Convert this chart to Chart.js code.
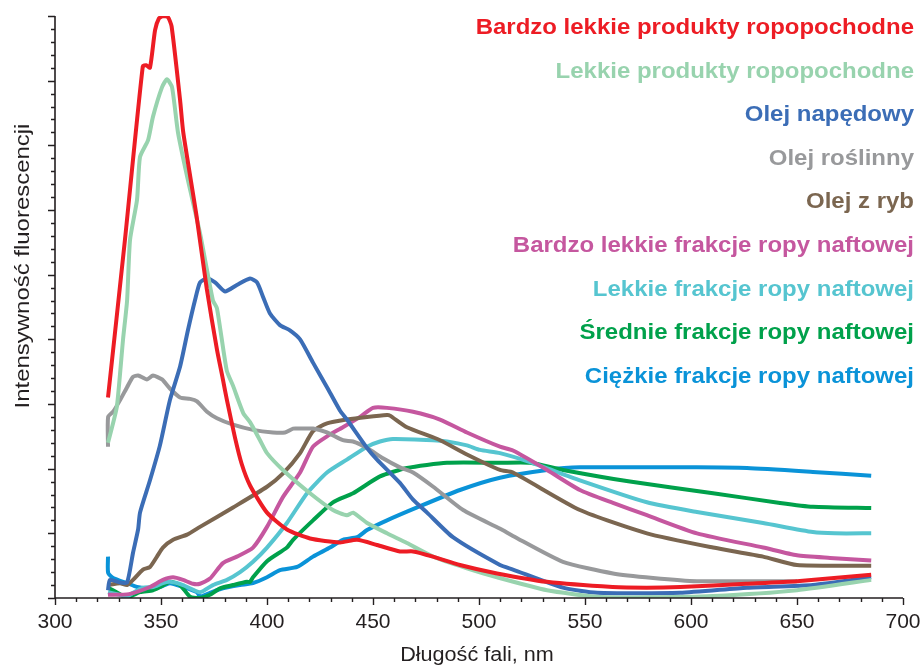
<!DOCTYPE html>
<html lang="pl">
<head>
<meta charset="utf-8">
<title>Widma fluorescencji</title>
<script src="https://cdn.jsdelivr.net/npm/chart.js@4.4.1/dist/chart.umd.min.js"></script>
<style>
  html, body { margin: 0; padding: 0; background: #ffffff; }
  #wrap { width: 922px; height: 665px; }
</style>
</head>
<body>
<div id="wrap"><canvas id="chart" width="922" height="665"></canvas></div>
<script>
// Series names (legend order)
const seriesNames = [
  'Bardzo lekkie produkty ropopochodne',
  'Lekkie produkty ropopochodne',
  'Olej napędowy',
  'Olej roślinny',
  'Olej z ryb',
  'Bardzo lekkie frakcje ropy naftowej',
  'Lekkie frakcje ropy naftowej',
  'Średnie frakcje ropy naftowej',
  'Ciężkie frakcje ropy naftowej'
];

// Spectra: [wavelength nm, fluorescence intensity (a.u.)]
const bardzoLekkieProdukty = [
  [325,15.5],[333,27.7],[341.4,41.1],[343,41.2],[344.8,41.0],[347.2,43.9],[349,44.8],[350.9,45.0],
  [353.3,44.9],[355,44.2],[359,38.5],[360.5,36.0],[366.8,29.5],[371.6,23.9],[376.4,19.2],[379.2,16.9],
  [381.1,15.3],[384.9,12.4],[388,10.4],[392,8.7],[400,6.6],[409.4,5.3],[420.3,4.6],[434.4,4.3],
  [442.5,4.5],[451.9,4.1],[462.7,3.6],[468.9,3.6],[478.3,3.2],[491,2.55],[508.5,1.9],[532,1.25],
  [563,0.85],[579,0.8],[595,0.85],[626,1.1],[650,1.3],[685,1.8]
];
const lekkieProdukty = [
  [325,12.0],[326.9,13.2],[329.2,14.8],[332.1,20.0],[334,23.0],[335.4,27.7],[338.7,30.8],[340.1,34.1],
  [343.9,35.4],[346.2,37.2],[350.5,39.5],[352.8,40.1],[355.2,39.5],[358,36.0],[362.3,32.6],[368.4,28.2],
  [374.5,23.0],[376.4,22.4],[381,17.6],[384,16.4],[388.8,14.3],[392,13.6],[396.7,12.2],[400,11.2],
  [407.5,9.9],[420.3,8.1],[431.1,6.8],[437.7,6.4],[440.6,6.6],[447.2,5.8],[456.6,5.0],[466,4.25],
  [478.3,3.2],[494.3,2.3],[508.5,1.6],[532.1,0.6],[555.7,0.1],[580,0.05],[610.4,0.15],[650,0.6],
  [685,1.4]
];
const olejNapedowy = [
  [325,0.6],[325.9,1.4],[330.7,1.2],[334,1.2],[336.8,3.5],[339.2,5.3],[340.1,6.6],[344.8,9.1],
  [349.5,11.8],[354.2,15.3],[359,17.9],[362.7,20.7],[366,23.0],[368.4,24.4],[371.7,24.7],[375.5,24.4],
  [380.2,23.7],[385.8,24.2],[392,24.7],[395.3,24.4],[398.1,23.3],[401.4,22.0],[406.1,21.1],[410.8,20.7],
  [415.6,20.0],[421.7,18.2],[428.3,16.3],[434.4,14.5],[437.7,13.8],[447.2,11.6],[451.9,10.7],[462.7,8.9],
  [468.9,7.6],[475.5,6.6],[487.7,4.7],[509.9,2.55],[516,2.2],[539.6,0.8],[555.7,0.4],[594.8,0.4],
  [626.4,0.8],[657.5,1.0],[685,1.6]
];
const olejRoslinny = [
  [325,11.7],[325.05,14.0],[327.4,14.4],[330.7,15.3],[334,16.3],[336.8,17.1],[339.2,17.2],[343.4,16.9],
  [346.2,17.2],[350.5,16.9],[354.2,16.2],[359,15.5],[363.7,15.4],[367,15.2],[371.7,14.4],[376.4,13.9],
  [384,13.4],[393.4,13.0],[402.8,12.8],[408.5,12.8],[412.3,13.1],[415.6,13.1],[421.7,13.1],[428.3,12.8],
  [435.8,12.2],[440.6,12.1],[447.2,11.6],[454.7,10.8],[462.7,10.1],[468.9,9.7],[478.4,8.6],[492.5,6.8],
  [510,5.35],[516,4.8],[539.6,2.8],[563.2,1.9],[582.1,1.55],[602.8,1.3],[650,1.3]
];
const olejZRyb = [
  [325,1.0],[330.7,1.15],[334,1.0],[336.8,1.4],[341.5,2.2],[344.8,2.4],[348.1,3.2],[350.9,3.9],
  [355.7,4.5],[362.3,4.9],[368.4,5.5],[384,7.0],[400,8.6],[407.7,9.65],[415.6,11.2],[421.7,12.9],
  [428.3,13.5],[437.7,13.8],[447.2,14.0],[456.6,14.15],[458,14.1],[466,13.2],[481.6,12.2],[494.3,11.1],
  [509.9,9.9],[516,9.7],[547.6,6.8],[579.2,5.0],[610.4,3.9],[634,3.2],[650,2.55],[685,2.5]
];
const bardzoLekkieFrakcje = [
  [325,0.25],[334.9,0.3],[344.8,0.85],[350.9,1.4],[355.7,1.6],[360.4,1.4],[365.1,1.1],[368.4,1.1],
  [373.1,1.5],[379.2,2.7],[385.8,3.2],[393.4,3.9],[400,5.5],[407.5,7.8],[415.6,9.7],[421.7,11.7],
  [428.3,12.5],[435.8,13.2],[443.9,14.0],[450,14.7],[456.6,14.7],[468.9,14.4],[481.6,13.8],[494.3,12.8],
  [509.9,11.7],[516,11.4],[532.1,9.9],[547.6,8.35],[563.2,7.35],[579.2,6.4],[602.8,5.0],[634,3.9],
  [650,3.3],[665.6,3.1],[685,2.9]
];
const lekkieFrakcje = [
  [325,0.45],[330.2,0.25],[334,0.1],[336.8,0.4],[341.5,0.8],[346.2,0.85],[350.9,1.15],[354.2,1.25],
  [360.4,1.0],[368.4,0.45],[374.5,1.0],[381.1,1.4],[387.3,2.0],[393.4,2.8],[400,3.9],[409.4,5.8],
  [418.9,8.1],[428.3,9.7],[437.7,10.7],[447.2,11.7],[453.3,12.1],[459.4,12.3],[478.3,12.2],[484.9,12.1],
  [494.3,11.8],[500.5,11.45],[509.9,11.2],[524.1,10.5],[547.6,9.1],[579.2,7.4],[602.8,6.65],[634,5.8],
  [657.5,5.1],[667.9,5.0],[685,5.0]
];
const sredanieFrakcje = [
  [325,0.8],[327.4,0.6],[334,0.05],[340.1,0.45],[346.2,0.6],[349.5,0.85],[354.2,1.25],[359,1.0],
  [363.7,0.1],[368.4,0.0],[373.1,0.25],[377.8,0.75],[384,1.0],[390.6,1.25],[392,1.25],[393.4,1.6],
  [400,2.85],[409.4,3.9],[412.3,4.5],[421.7,6.0],[431.1,7.4],[440.6,8.1],[453.3,9.4],[466,10.05],
  [484.9,10.45],[509.9,10.45],[524.1,10.45],[539.6,9.9],[571.2,9.0],[610.4,8.1],[642,7.35],[657.5,7.05],
  [685,6.95]
];
const ciezkieFrakcje = [
  [325,3.2],[325.05,1.95],[327.4,1.55],[334,1.15],[338.7,0.85],[344.8,0.75],[349.5,0.85],[354.2,1.15],
  [360.4,0.85],[367,0.45],[368.4,0.1],[373.1,0.4],[379.2,0.75],[387.3,1.0],[393.4,1.15],[400,1.6],
  [406.1,2.15],[414.2,2.4],[421.7,3.2],[429.7,3.9],[435.8,4.5],[442.5,4.7],[447.2,5.25],[456.6,6.0],
  [470.8,7.0],[491,8.35],[509.9,9.3],[532.1,9.9],[547.6,10.1],[602.8,10.1],[626.4,10.05],[657.5,9.75],
  [685,9.45]
];

const seriesData = [
  bardzoLekkieProdukty, lekkieProdukty, olejNapedowy, olejRoslinny, olejZRyb,
  bardzoLekkieFrakcje, lekkieFrakcje, sredanieFrakcje, ciezkieFrakcje
];

// Axis settings
const xMin = 300, xMax = 700, xMinorStep = 10, xMajorStep = 50;
const yMin = 0, yMax = 45, yMinorStep = 1, yMajorStep = 5;
const xTitle = 'Długość fali, nm';
const yTitle = 'Intensywność fluorescencji';

// Line colours
const lineColors = [
  '#ED1C24', '#98D3AE', '#3B6DB6', '#98999B', '#7B6650',
  '#C5579F', '#56C5D0', '#00A14B', '#0A93D8'
];

const AXIS_COLOR = '#231F20';
const FONT = '"Liberation Sans", Arial, Helvetica, sans-serif';

const datasets = seriesNames.map((name, i) => ({
  label: name,
  data: seriesData[i].map(p => ({ x: p[0], y: p[1] })),
  borderColor: lineColors[i],
  backgroundColor: lineColors[i],
  borderWidth: 4,
  pointRadius: 0,
  tension: 0.2,
  borderJoinStyle: 'round',
  borderCapStyle: 'butt',
  fill: false
}));

// Text drawn slightly widened (wide-tracking sans)
function wideText(ctx, text, x, y, stretch) {
  ctx.save();
  ctx.translate(x, y);
  ctx.scale(stretch, 1);
  ctx.fillText(text, 0, 0);
  ctx.restore();
}

// Axis lines, tick marks (major/minor lengths differ), titles and legend
const axisPlugin = {
  id: 'axisTicks',
  afterDraw(chart) {
    const ctx = chart.ctx;
    const xs = chart.scales.x, ys = chart.scales.y;
    const left = xs.getPixelForValue(xMin), right = xs.getPixelForValue(xMax);
    const bottom = ys.getPixelForValue(yMin), top = ys.getPixelForValue(yMax);
    ctx.save();
    ctx.strokeStyle = AXIS_COLOR;
    ctx.lineWidth = 1.6;
    ctx.beginPath();
    ctx.moveTo(left, top);
    ctx.lineTo(left, bottom);
    ctx.lineTo(right, bottom);
    ctx.stroke();
    ctx.lineWidth = 1.4;
    ctx.beginPath();
    for (let v = xMin; v <= xMax + 1e-9; v += xMinorStep) {
      const px = Math.round(xs.getPixelForValue(v)) + 0.5;
      const len = (v % xMajorStep === 0) ? 7 : 4;
      ctx.moveTo(px, bottom);
      ctx.lineTo(px, bottom + len);
    }
    for (let v = yMin; v <= yMax + 1e-9; v += yMinorStep) {
      const py = Math.round(ys.getPixelForValue(v)) + 0.5;
      const len = (v % yMajorStep === 0) ? 7 : 4;
      ctx.moveTo(left, py);
      ctx.lineTo(left - len, py);
    }
    ctx.stroke();

    // axis titles
    ctx.fillStyle = AXIS_COLOR;
    ctx.font = '20px ' + FONT;
    ctx.textAlign = 'center';
    ctx.textBaseline = 'alphabetic';
    wideText(ctx, xTitle, 477, 661, 1.08);
    ctx.save();
    ctx.translate(29, 266);
    ctx.rotate(-Math.PI / 2);
    ctx.font = '21px ' + FONT;
    wideText(ctx, yTitle, 0, 0, 1.14);
    ctx.restore();

    // legend: coloured names, right-aligned
    ctx.font = 'bold 22px ' + FONT;
    ctx.textAlign = 'right';
    chart.data.datasets.forEach((ds, i) => {
      ctx.fillStyle = ds.borderColor;
      wideText(ctx, ds.label, 914, 34 + i * 43.6, 1.09);
    });
    ctx.restore();
  }
};

new Chart(document.getElementById('chart'), {
  type: 'line',
  data: { datasets },
  options: {
    responsive: false,
    animation: false,
    devicePixelRatio: 1,
    layout: { padding: { top: 16, right: 19, left: 0, bottom: 0 } },
    plugins: { legend: { display: false }, tooltip: { enabled: false } },
    scales: {
      x: {
        type: 'linear',
        min: xMin, max: xMax,
        grid: { display: false, drawTicks: false },
        border: { display: false },
        ticks: {
          stepSize: xMinorStep,
          autoSkip: false,
          maxRotation: 0,
          padding: 12,
          color: AXIS_COLOR,
          font: { family: FONT, size: 21 },
          callback: v => (v % xMajorStep === 0 ? String(v) : '')
        },
        afterFit(scale) {
          scale.height = 67;
          scale.paddingLeft = 0;
          scale.paddingRight = 0;
        }
      },
      y: {
        type: 'linear',
        min: yMin, max: yMax,
        grid: { display: false, drawTicks: false },
        border: { display: false },
        ticks: { display: false, stepSize: yMajorStep },
        afterFit(scale) { scale.width = 55; }
      }
    }
  },
  plugins: [axisPlugin]
});
</script>
</body>
</html>
